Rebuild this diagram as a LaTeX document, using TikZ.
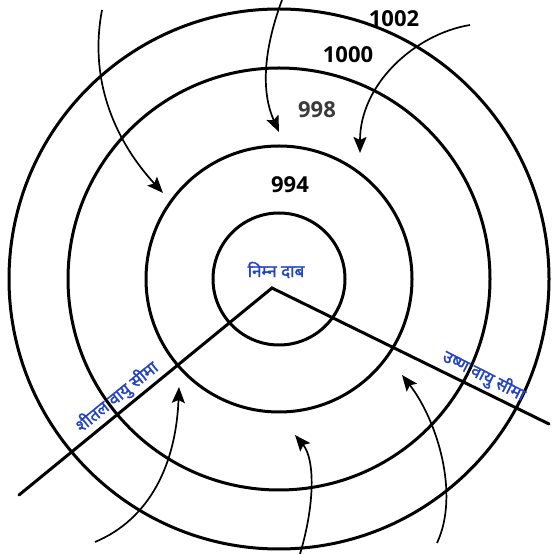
\documentclass[tikz,border=0pt]{standalone}
\usepackage{fontspec}
\usepackage{xcolor}
\usetikzlibrary{arrows.meta}
\newfontfamily\numfont{Open Sans}
\newfontfamily\hindifont[Script=Devanagari, FakeBold=1.6]{Noto Sans}
\definecolor{lowblue}{HTML}{2243C4}
\definecolor{isogrey}{HTML}{3A3A3A}

\begin{document}
\begin{tikzpicture}[x=1pt, y=1pt,
  iso/.style={line width=3pt, black},
  front/.style={line width=3pt, black, line cap=round},
  wind/.style={line width=1.7pt, -{Stealth[length=16pt, width=13pt, inset=3pt]}},
  val/.style={font=\numfont\bfseries\fontsize{22}{26}\selectfont, inner sep=0pt},
  hin/.style={font=\hindifont\fontsize{17}{20}\selectfont, text=lowblue, inner sep=0pt}]
\useasboundingbox (0,0) rectangle (554,554);
\clip (0,0) rectangle (554,554);
% isobars
\coordinate (c) at (279,275);
\foreach \r in {66,133,211,270} \draw[iso] (c) circle (\r);
% fronts
\coordinate (v) at (272,266);
\coordinate (cl) at (19,59);
\coordinate (wl) at (549,130);
\draw[front] (cl) -- (v) -- (wl);
% winds
\draw[wind] (102,544) .. controls (88,470) and (118,410) .. (163,361);
\draw[wind] (282,554) .. controls (262,500) and (262,460) .. (279,422);
\draw[wind] (470,529) .. controls (415,520) and (360,470) .. (360,401);
\draw[wind] (95,12) .. controls (150,35) and (176,90) .. (179,167);
\draw[wind] (300,0) .. controls (315,50) and (315,95) .. (295,119);
\draw[wind] (437,11) .. controls (460,60) and (437,134) .. (402,179);
% labels
\node[val] (p1002) at (394,535) {1002};
\node[val] (p1000) at (348,499) {1000};
\node[val, text=isogrey] (p998) at (317,444) {998};
\node[val] (p994) at (290,369) {994};
\node[hin] (low) at (276,284) {निम्न दाब};
\node[hin, rotate=39] (cold) at (117,157) {शीतल वायु सीमा};
\node[hin, rotate=-27] (warm) at (484,178) {उष्ण वायु सीमा};
\end{tikzpicture}
\end{document}
